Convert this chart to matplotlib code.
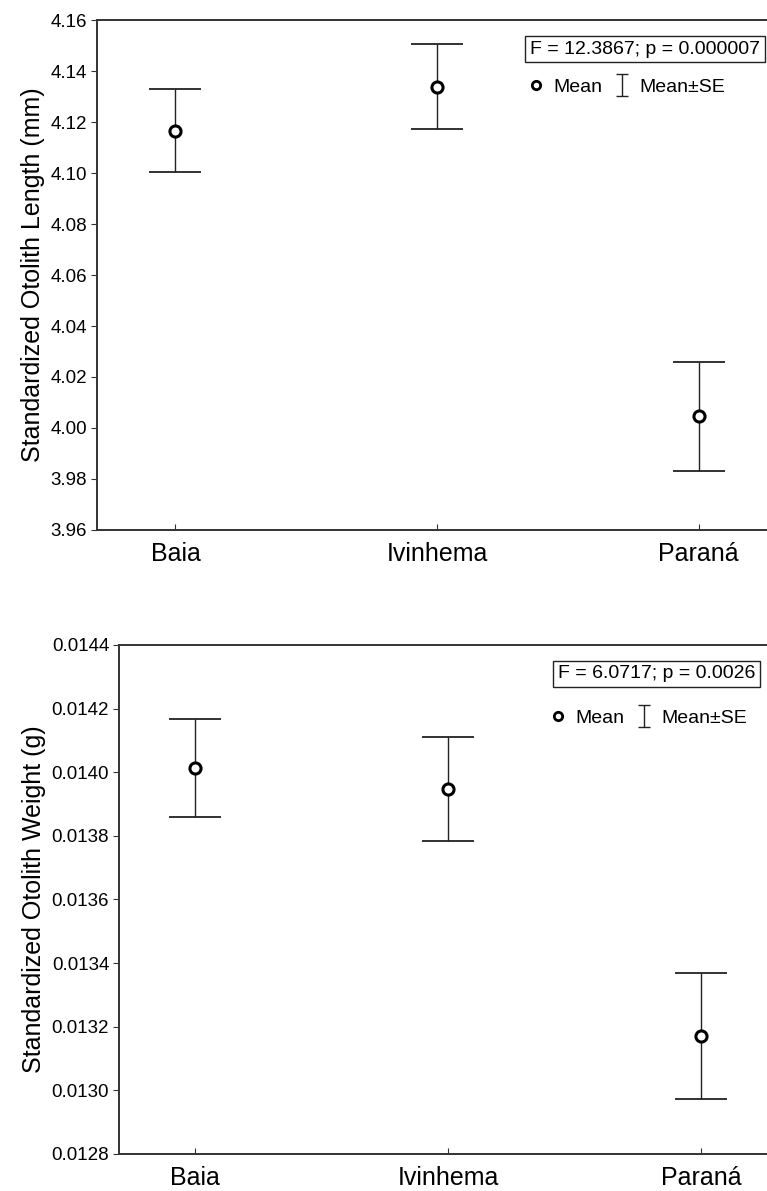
import matplotlib.pyplot as plt
from matplotlib.lines import Line2D
from matplotlib.path import Path

plt.rcParams['font.family'] = ['Liberation Sans', 'DejaVu Sans']

sites = ["Baia", "Ivinhema", "Paraná"]

# otolith length (mm): mean and mean +/- SE
length_mean = [4.1166, 4.1339, 4.0047]
length_upper = [4.1328, 4.1507, 4.0260]
length_lower = [4.1003, 4.1172, 3.9831]
length_ticks = [3.96, 3.98, 4.00, 4.02, 4.04, 4.06, 4.08, 4.10, 4.12, 4.14, 4.16]

# otolith weight (g): mean and mean +/- SE
weight_mean = [0.014012, 0.013946, 0.013172]
weight_upper = [0.014166, 0.014112, 0.013370]
weight_lower = [0.013858, 0.013784, 0.012973]
weight_ticks = [0.0128, 0.0130, 0.0132, 0.0134, 0.0136, 0.0138, 0.0140, 0.0142, 0.0144]

length_stats = "F = 12.3867; p = 0.000007"
weight_stats = "F = 6.0717; p = 0.0026"

# I-beam glyph for the "Mean±SE" legend entry
ibeam = Path([(-0.5, -1), (0.5, -1), (0, -1), (0, 1), (-0.5, 1), (0.5, 1)],
             [Path.MOVETO, Path.LINETO, Path.MOVETO, Path.LINETO,
              Path.MOVETO, Path.LINETO])

fig = plt.figure(figsize=(7.67, 11.91), dpi=100)
ax1 = fig.add_axes([0.1265, 0.555, 0.8866, 0.4282])
ax2 = fig.add_axes([0.1551, 0.0311, 0.8579, 0.4274])


def panel(ax, mean, upper, lower, ticks, fmt, ylabel, stats, box_xy, leg_xy):
    x = list(range(1, len(sites) + 1))
    err = [[m - lo for m, lo in zip(mean, lower)],
           [up - m for m, up in zip(mean, upper)]]
    ax.errorbar(x, mean, yerr=err, fmt='none', ecolor='#222222',
                elinewidth=1.0, capsize=19, capthick=1.3)
    ax.plot(x, mean, 'o', ms=8, mfc='white', mec='black', mew=2.2)
    ax.set_xlim(0.7, 3.3)
    ax.set_ylim(ticks[0], ticks[-1])
    ax.set_xticks(x)
    ax.set_xticklabels(sites, fontsize=18)
    ax.set_yticks(ticks)
    ax.set_yticklabels([fmt.format(t) for t in ticks], fontsize=13.5)
    ax.set_ylabel(ylabel, fontsize=18, labelpad=4)
    ax.tick_params(axis='x', direction='in', length=4, pad=9, color='#333333')
    ax.tick_params(axis='y', direction='out', length=4, pad=3, color='#333333')
    for s in ax.spines.values():
        s.set_linewidth(1.4)
        s.set_color('#333333')
    ax.text(box_xy[0], box_xy[1], stats, transform=ax.transAxes,
            fontsize=14, va='center', ha='left',
            bbox=dict(boxstyle='square,pad=0.25', fc='white', ec='#222222', lw=1.0))
    mean_h = Line2D([], [], ls='none', marker='o', ms=6, mfc='white',
                    mec='black', mew=2)
    se_h = Line2D([], [], ls='none', marker=ibeam, ms=16, mfc='none',
                  mec='#222222', mew=1.0)
    ax.legend([mean_h, se_h], ["Mean", "Mean±SE"], ncol=2, frameon=False,
              loc='center left', bbox_to_anchor=leg_xy, fontsize=14,
              handlelength=0.8, handletextpad=0.5, columnspacing=0.6,
              borderpad=0, borderaxespad=0)


panel(ax1, length_mean, length_upper, length_lower, length_ticks, "{:.2f}",
      "Standardized Otolith Length (mm)", length_stats, (0.637, 0.943),
      (0.6335, 0.869))
panel(ax2, weight_mean, weight_upper, weight_lower, weight_ticks, "{:.4f}",
      "Standardized Otolith Weight (g)", weight_stats, (0.667, 0.943),
      (0.655, 0.857))

fig.savefig("out.png", dpi=100)
